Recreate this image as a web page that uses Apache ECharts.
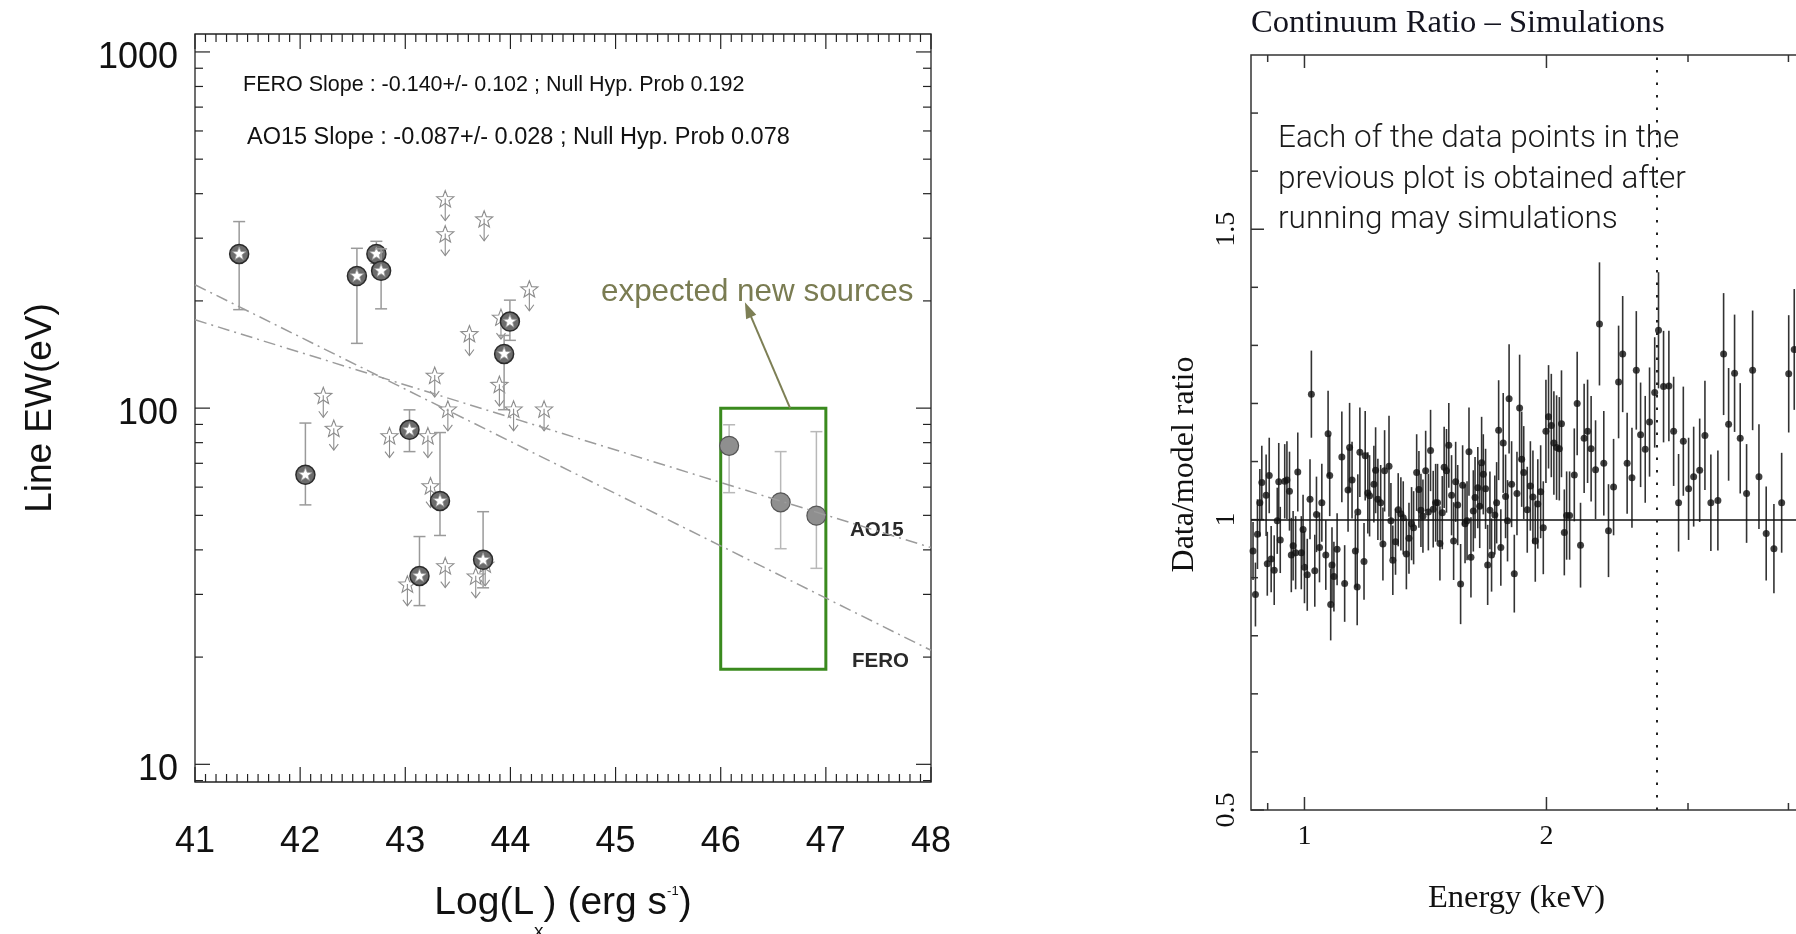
<!DOCTYPE html>
<html>
<head>
<meta charset="utf-8">
<title>Line EW vs Lx / Continuum Ratio</title>
<script src="https://cdn.jsdelivr.net/npm/echarts@6/dist/echarts.min.js"></script>
<style>
  html, body { margin: 0; padding: 0; background: #fff; }
  #chart { width: 1796px; height: 934px; }
</style>
</head>
<body>
<div id="chart"></div>
<script>
// ---------- left panel: line EW against log Lx ----------
// detections (dark circle with star) : log Lx, EW (eV), error bar ends
const detLogL = [41.42, 42.05, 42.54, 42.725, 42.77, 43.04, 43.135, 43.33, 43.74, 43.94, 43.995]
const detEW = [271, 65, 235, 271, 243, 86.9, 33.8, 54.9, 37.5, 142, 175]
const detLow = [189, 53.5, 152, 255, 190, 75.5, 27.9, 43.9, 31.3, 99, 155]
const detHigh = [334, 90.8, 281, 294, 280, 98.9, 43.6, 85.4, 51.2, 160, 201]

// upper limits (open star with arrow)
const ulLogL = [42.22, 42.32, 42.85, 43.02, 43.215, 43.24, 43.28, 43.38, 43.38, 43.38, 43.405, 43.61, 43.67, 43.75, 43.76, 43.895, 43.91, 44.03, 44.18, 44.32]
const ulEW = [108, 87.3, 83.2, 31.9, 83.2, 60.2, 123, 385, 307, 35.9, 98.9, 161, 33.6, 338, 36.3, 116, 179, 98.9, 215, 98.9]

// expected new sources (grey circles)
const newLogL = [46.08, 46.57, 46.91]
const newEW = [78.4, 54.4, 49.9]
const newLow = [57.9, 40.3, 35.5]
const newHigh = [89.8, 75.5, 85.9]

// fitted slopes, end points
const fitLogL = [41, 48]
const feroEW = [222, 20.9]
const ao15EW = [177, 40.6]

// box around the new sources and the arrow to its caption
const boxCorners = [[46, 100], [47, 18.5]]
const arrowEnds = [[46.66, 100], [46.26, 189]]

// tick values
const leftXMajor = [41, 42, 43, 44, 45, 46, 47, 48]
const leftYMajor = [10, 100, 1000]
const leftYMinorMult = [2, 3, 4, 5, 6, 7, 8, 9]

// ---------- right panel: data/model ratio ----------
const ratioEnergy = [
  0.863, 0.869, 0.874, 0.880, 0.885, 0.896, 0.899, 0.904, 0.909, 0.917, 0.925, 0.929, 0.933, 0.945, 0.951, 0.958,
  0.963, 0.968, 0.975, 0.981, 0.991, 0.996, 1.000, 1.008, 1.016, 1.020, 1.030, 1.035, 1.044, 1.051, 1.063, 1.070,
  1.075, 1.078, 1.082, 1.088, 1.098, 1.113, 1.122, 1.133, 1.138, 1.146, 1.157, 1.163, 1.165, 1.172, 1.186, 1.190,
  1.199, 1.205, 1.220, 1.226, 1.234, 1.244, 1.252, 1.258,
  1.274, 1.281, 1.288, 1.298, 1.308, 1.318, 1.327, 1.339, 1.349, 1.359, 1.367, 1.379, 1.388, 1.396, 1.404, 1.415,
  1.426, 1.435, 1.446, 1.456, 1.464, 1.474, 1.484, 1.492, 1.502, 1.512, 1.524, 1.533, 1.542, 1.551, 1.564, 1.573,
  1.584, 1.593, 1.602, 1.611, 1.622, 1.630, 1.643, 1.652, 1.661, 1.669, 1.680, 1.690, 1.701, 1.709, 1.725, 1.734,
  1.744, 1.755, 1.767, 1.779, 1.789, 1.797, 1.810, 1.824, 1.838, 1.852, 1.863, 1.874,
  1.893, 1.910, 1.924, 1.937, 1.951, 1.967, 1.982, 1.997, 2.012, 2.028, 2.043, 2.059, 2.075, 2.088, 2.105, 2.119,
  2.137, 2.166, 2.184, 2.205, 2.228, 2.250, 2.273, 2.302, 2.328, 2.357, 2.389, 2.424, 2.459, 2.488, 2.520, 2.555,
  2.587, 2.619, 2.654, 2.687, 2.727, 2.757,
  2.797, 2.840, 2.879, 2.920, 2.960, 3.005, 3.049, 3.102, 3.149, 3.203, 3.268, 3.322, 3.370, 3.428, 3.484, 3.548,
  3.610, 3.676, 3.753, 3.837, 3.923, 4.003, 4.067
]
const ratioValue = [
  0.946, 0.871, 0.975, 1.029, 1.064, 1.042, 0.924, 1.076, 0.932, 0.913, 0.998, 1.065, 0.965, 1.066, 1.068, 1.049,
  0.939, 0.955, 0.943, 1.082, 0.943, 0.983, 0.918, 0.905, 1.035, 1.216, 0.912, 1.009, 0.952, 1.029, 0.939, 1.148,
  1.076, 0.854, 0.922, 0.902, 0.949, 1.108, 0.890, 1.051, 1.124, 1.068, 0.946, 0.884, 1.013, 1.116, 0.928, 1.110,
  1.046, 1.041, 1.061, 1.085, 1.035, 1.029, 0.958, 1.084,
  1.092, 0.998, 0.930, 0.962, 1.017, 1.010, 1.003, 0.941, 0.968, 0.993, 0.986, 1.081, 1.052, 1.016, 1.006, 1.084,
  1.013, 1.119, 1.018, 1.029, 1.029, 0.959, 1.012, 1.090, 1.084, 1.128, 1.042, 0.963, 1.065, 1.025, 0.889, 1.059,
  0.993, 0.998, 1.117, 0.935, 1.015, 1.038, 1.055, 1.023, 1.098, 1.078, 1.053, 0.922, 1.016, 0.939, 1.008, 1.029,
  1.154, 0.952, 1.132, 1.040, 0.998, 1.208, 1.061, 0.907, 1.045, 1.192, 1.104, 1.081,
  1.017, 1.058, 1.039, 0.963, 1.027, 1.048, 0.986, 1.152, 1.177, 1.162, 1.132, 1.124, 1.122, 1.165, 0.978, 1.007,
  1.007, 1.077, 1.200, 0.956, 1.140, 1.152, 1.122, 1.086, 1.337, 1.097, 0.981, 1.056, 1.237, 1.285, 1.097, 1.072,
  1.257, 1.146, 1.121, 1.168, 1.219, 1.326,
  1.229, 1.230, 1.152, 1.029, 1.135, 1.053, 1.074, 1.085, 1.145, 1.029, 1.033, 1.285, 1.164, 1.252, 1.140, 1.045,
  1.257, 1.074, 0.976, 0.950, 1.029, 1.251, 1.293
]
const ratioError = [
  0.050, 0.055, 0.060, 0.058, 0.063, 0.070, 0.055, 0.065, 0.057, 0.060, 0.057, 0.067, 0.057, 0.064, 0.067, 0.068,
  0.064, 0.060, 0.063, 0.068, 0.063, 0.060, 0.062, 0.062, 0.069, 0.075, 0.062, 0.065, 0.060, 0.067, 0.060, 0.074,
  0.070, 0.062, 0.065, 0.060, 0.062, 0.078, 0.066, 0.072, 0.077, 0.066, 0.063, 0.066, 0.065, 0.077, 0.066, 0.077,
  0.070, 0.070, 0.066, 0.074, 0.070, 0.065, 0.063, 0.070,
  0.087, 0.065, 0.060, 0.057, 0.063, 0.063, 0.063, 0.061, 0.061, 0.063, 0.063, 0.066, 0.066, 0.063, 0.063, 0.069,
  0.066, 0.070, 0.066, 0.067, 0.067, 0.064, 0.063, 0.070, 0.072, 0.073, 0.069, 0.067, 0.069, 0.069, 0.069, 0.069,
  0.068, 0.068, 0.076, 0.069, 0.070, 0.070, 0.070, 0.072, 0.079, 0.069, 0.069, 0.069, 0.067, 0.063, 0.068, 0.070,
  0.086, 0.066, 0.086, 0.072, 0.070, 0.094, 0.074, 0.067, 0.072, 0.092, 0.082, 0.080,
  0.074, 0.077, 0.080, 0.070, 0.077, 0.080, 0.080, 0.089, 0.089, 0.089, 0.089, 0.090, 0.089, 0.092, 0.074, 0.076,
  0.076, 0.080, 0.089, 0.073, 0.094, 0.089, 0.091, 0.085, 0.106, 0.090, 0.080, 0.083, 0.097, 0.100, 0.087, 0.086,
  0.102, 0.090, 0.092, 0.094, 0.095, 0.100,
  0.096, 0.095, 0.094, 0.084, 0.094, 0.088, 0.086, 0.089, 0.094, 0.083, 0.086, 0.105, 0.097, 0.101, 0.095, 0.085,
  0.103, 0.090, 0.081, 0.077, 0.086, 0.101, 0.104
]
const markerEnergy = 2.74
const rightXMajor = [1, 2, 5]
const rightXMinor = [0.9, 3, 4, 6]
const rightYMajor = [0.5, 1, 1.5]
const rightYMinor = [0.6, 0.7, 0.8, 0.9, 1.1, 1.2, 1.3, 1.4, 1.6, 1.7]

const SANS = '"Liberation Sans", Arial, Helvetica, sans-serif'
const SERIF = '"Liberation Serif", "Times New Roman", serif'

// tick items: [x, y, kind] kind 0 x-major, 1 x-minor, 2 y-major, 3 y-minor
function tickItems(xMaj, xMin, yMaj, yMin, xRef, yRef) {
  const out = []
  xMaj.forEach(v => out.push([v, yRef, 0]))
  xMin.forEach(v => out.push([v, yRef, 1]))
  yMaj.forEach(v => out.push([xRef, v, 2]))
  yMin.forEach(v => out.push([xRef, v, 3]))
  return out
}

const leftXMinor = []
for (let i = 410; i < 480; i++) {
  if (i % 10 !== 0) leftXMinor.push(i / 10)
}
const leftYMinor = [9]
leftYMajor.slice(0, 2).forEach(d => leftYMinorMult.forEach(m => leftYMinor.push(d * m)))

function tickRender(majLen, minLen, color, width, xLabels) {
  return function (params, api) {
    const cs = params.coordSys
    const kind = api.value(2)
    const p = api.coord([api.value(0), api.value(1)])
    const len = (kind === 0 || kind === 2) ? majLen : minLen
    const bottom = cs.y + cs.height
    const right = cs.x + cs.width
    const st = () => ({ stroke: color, lineWidth: width })
    const children = []
    if (kind < 2) {
      const x = p[0]
      children.push({ type: 'line', shape: { x1: x, y1: bottom, x2: x, y2: bottom - len }, style: st() })
      children.push({ type: 'line', shape: { x1: x, y1: cs.y, x2: x, y2: cs.y + len }, style: st() })
      if (xLabels && kind === 0) {
        children.push({
          type: 'text',
          style: {
            text: String(api.value(0)), x: x, y: bottom + 27,
            align: 'center', verticalAlign: 'middle', textAlign: 'center', textVerticalAlign: 'middle',
            fontSize: 28, fontFamily: SERIF, fill: '#111'
          }
        })
      }
    } else {
      const y = p[1]
      children.push({ type: 'line', shape: { x1: cs.x, y1: y, x2: cs.x + len, y2: y }, style: st() })
      children.push({ type: 'line', shape: { x1: right, y1: y, x2: right - len, y2: y }, style: st() })
    }
    return { type: 'group', children: children }
  }
}

function starPoints(cx, cy, ro, ri) {
  const pts = []
  for (let k = 0; k < 10; k++) {
    const a = -Math.PI / 2 + k * Math.PI / 5
    const r = k % 2 ? ri : ro
    pts.push([cx + r * Math.cos(a), cy + r * Math.sin(a)])
  }
  return pts
}

function errBar(x, yTop, yBot, cap, color) {
  const st = () => ({ stroke: color, lineWidth: 1.5 })
  return [
    { type: 'line', shape: { x1: x, y1: yTop, x2: x, y2: yBot }, style: st() },
    { type: 'line', shape: { x1: x - cap, y1: yTop, x2: x + cap, y2: yTop }, style: st() },
    { type: 'line', shape: { x1: x - cap, y1: yBot, x2: x + cap, y2: yBot }, style: st() }
  ]
}

function renderDetection(params, api) {
  const p = api.coord([api.value(0), api.value(1)])
  const lo = api.coord([api.value(0), api.value(2)])
  const hi = api.coord([api.value(0), api.value(3)])
  const children = errBar(p[0], hi[1], lo[1], 6, '#9a9a9a')
  children.push({ type: 'circle', shape: { cx: p[0], cy: p[1], r: 9.5 }, style: { fill: '#6c6c6c', stroke: '#2b2b2b', lineWidth: 1.5 } })
  children.push({ type: 'polygon', shape: { points: starPoints(p[0], p[1], 7, 3) }, style: { fill: '#fff', stroke: '#999', lineWidth: 0.8 } })
  return { type: 'group', children: children }
}

function renderUpperLimit(params, api) {
  const p = api.coord([api.value(0), api.value(1)])
  const cx = p[0], cy = p[1]
  const st = () => ({ stroke: '#8c8c8c', lineWidth: 1.1, fill: 'none' })
  return {
    type: 'group',
    children: [
      { type: 'line', shape: { x1: cx, y1: cy - 1, x2: cx, y2: cy + 21 }, style: st() },
      { type: 'polyline', shape: { points: [[cx - 4.5, cy + 15], [cx, cy + 21], [cx + 4.5, cy + 15]] }, style: st() },
      { type: 'polygon', shape: { points: starPoints(cx, cy, 9, 3.8) }, style: st() }
    ]
  }
}

function renderNewSource(params, api) {
  const p = api.coord([api.value(0), api.value(1)])
  const lo = api.coord([api.value(0), api.value(2)])
  const hi = api.coord([api.value(0), api.value(3)])
  const children = errBar(p[0], hi[1], lo[1], 6, '#b8b8b8')
  children.push({ type: 'circle', shape: { cx: p[0], cy: p[1], r: 9.5 }, style: { fill: '#8f8f8f', stroke: '#555', lineWidth: 1.2 } })
  return { type: 'group', children: children }
}

function renderRatioBar(params, api) {
  const top = api.coord([api.value(0), api.value(1) + api.value(2)])
  const bot = api.coord([api.value(0), api.value(1) - api.value(2)])
  return { type: 'line', shape: { x1: top[0], y1: top[1], x2: bot[0], y2: bot[1] }, style: { stroke: '#333', lineWidth: 1.6 } }
}

const chart = echarts.init(document.getElementById('chart'))

const dashDot = [12, 5, 2, 5]

chart.setOption({
  backgroundColor: '#fff',
  animation: false,
  grid: [
    { left: 195, width: 736, top: 34, height: 748, outerBoundsMode: 'none', containLabel: false, show: true, borderColor: '#222', borderWidth: 1.3, backgroundColor: 'transparent' },
    { left: 1251, width: 679, top: 55, height: 755, outerBoundsMode: 'none', containLabel: false, show: true, borderColor: '#333', borderWidth: 1.5, backgroundColor: 'transparent' }
  ],
  xAxis: [
    {
      gridIndex: 0, type: 'value', min: 41, max: 48, interval: 1,
      axisLine: { show: false }, axisTick: { show: false }, splitLine: { show: false },
      axisLabel: { fontSize: 36, margin: 42, color: '#111', fontFamily: SANS },
      name: '{m|Log(L}{sub|x}{m|) (erg s}{sup|-1}{m|)}',
      nameLocation: 'middle', nameGap: 80,
      nameTextStyle: {
        rich: {
          m: { fontSize: 39, lineHeight: 76, fontFamily: SANS, color: '#111' },
          sub: { fontSize: 19, lineHeight: 28, verticalAlign: 'bottom', fontFamily: SANS, color: '#111' },
          sup: { fontSize: 13, lineHeight: 14, verticalAlign: 'top', padding: [20, 0, 0, 0], fontFamily: SANS, color: '#111' }
        }
      }
    },
    {
      gridIndex: 1, type: 'log', logBase: 10, min: 0.858, max: 6,
      axisLine: { show: false }, axisTick: { show: false }, splitLine: { show: false },
      axisLabel: { show: false }
    }
  ],
  yAxis: [
    {
      gridIndex: 0, type: 'log', logBase: 10, min: 8.92, max: 1123,
      axisLine: { show: false }, axisTick: { show: false }, splitLine: { show: false },
      axisLabel: {
        fontSize: 36, margin: 17, color: '#111', fontFamily: SANS,
        verticalAlign: 'top', lineHeight: 12,
        formatter: function (v) {
          const e = Math.log10(v)
          return Math.abs(e - Math.round(e)) < 1e-4 ? String(Math.round(v)) : ''
        }
      },
      name: 'Line EW(eV)', nameLocation: 'middle', nameGap: 136,
      nameTextStyle: { fontSize: 37, fontFamily: SANS, color: '#111' }
    },
    {
      gridIndex: 1, type: 'value', min: 0.5, max: 1.8, interval: 0.5,
      axisLine: { show: false }, axisTick: { show: false }, splitLine: { show: false },
      axisLabel: {
        rotate: 90, fontSize: 28, margin: 10, color: '#111', fontFamily: SERIF,
        formatter: function (v) { return v > 1.6 ? '' : String(v) }
      },
      name: 'Data/model ratio', nameLocation: 'middle', nameGap: 50,
      nameTextStyle: { fontSize: 32, fontFamily: SERIF, color: '#111', padding: [0, 64, 0, 0] }
    }
  ],
  graphic: [
    { type: 'text', left: 243, top: 74, style: { text: 'FERO Slope : -0.140+/- 0.102 ; Null Hyp. Prob 0.192', fontSize: 21.5, fontFamily: SANS, fill: '#111' } },
    { type: 'text', left: 247, top: 126, style: { text: 'AO15 Slope : -0.087+/- 0.028 ; Null Hyp. Prob 0.078', fontSize: 23.5, fontFamily: SANS, fill: '#111' } },
    { type: 'text', left: 850, top: 520, style: { text: 'AO15', fontSize: 20.5, fontWeight: 'bold', fontFamily: SANS, fill: '#2a2a2a' } },
    { type: 'text', left: 852, top: 651, style: { text: 'FERO', fontSize: 20.5, fontWeight: 'bold', fontFamily: SANS, fill: '#2a2a2a' } },
    { type: 'text', left: 601, top: 277, style: { text: 'expected new sources', fontSize: 31.4, fontFamily: SANS, fill: '#7a7c52' } },
    { type: 'text', left: 1251, top: 7, style: { text: 'Continuum Ratio \u2013 Simulations', fontSize: 32.6, fontFamily: SERIF, fill: '#14141f' } },
    {
      type: 'text', left: 1278, top: 119,
      style: {
        text: 'Each of the data points in the\nprevious plot is obtained after\nrunning may simulations',
        fontSize: 31.5, lineHeight: 40.5, fontFamily: 'Roboto, "Liberation Sans", sans-serif', fontWeight: 300, fill: '#1a1a1a'
      }
    },
    { type: 'text', left: 1428, top: 882, style: { text: 'Energy (keV)', fontSize: 32.5, fontFamily: SERIF, fill: '#111' } }
  ],
  series: [
    {
      type: 'custom', name: 'leftTicks', xAxisIndex: 0, yAxisIndex: 0, silent: true, clip: false,
      data: tickItems(leftXMajor, leftXMinor, leftYMajor, leftYMinor, 41, 100),
      renderItem: tickRender(15, 8, '#222', 1.2, false)
    },
    {
      type: 'line', name: 'FERO', xAxisIndex: 0, yAxisIndex: 0, silent: true, symbol: 'none',
      data: fitLogL.map((x, i) => [x, feroEW[i]]),
      lineStyle: { color: '#9c9c9c', width: 1.5, type: dashDot },
      markArea: {
        silent: true,
        itemStyle: { color: 'rgba(0,0,0,0)', borderColor: '#3a8a1e', borderWidth: 3 },
        data: [[{ coord: boxCorners[0] }, { coord: boxCorners[1] }]]
      },
      markLine: {
        silent: true, symbol: ['none', 'triangle'], symbolSize: [11, 16],
        label: { show: false },
        lineStyle: { color: '#7d7f55', width: 2, type: 'solid' },
        data: [[{ coord: arrowEnds[0] }, { coord: arrowEnds[1] }]]
      }
    },
    {
      type: 'line', name: 'AO15', xAxisIndex: 0, yAxisIndex: 0, silent: true, symbol: 'none',
      data: fitLogL.map((x, i) => [x, ao15EW[i]]),
      lineStyle: { color: '#9c9c9c', width: 1.5, type: dashDot }
    },
    {
      type: 'custom', name: 'upper limits', xAxisIndex: 0, yAxisIndex: 0, silent: true,
      data: ulLogL.map((x, i) => [x, ulEW[i]]),
      renderItem: renderUpperLimit
    },
    {
      type: 'custom', name: 'detections', xAxisIndex: 0, yAxisIndex: 0, silent: true,
      data: detLogL.map((x, i) => [x, detEW[i], detLow[i], detHigh[i]]),
      renderItem: renderDetection
    },
    {
      type: 'custom', name: 'new sources', xAxisIndex: 0, yAxisIndex: 0, silent: true,
      data: newLogL.map((x, i) => [x, newEW[i], newLow[i], newHigh[i]]),
      renderItem: renderNewSource
    },
    {
      type: 'custom', name: 'rightTicks', xAxisIndex: 1, yAxisIndex: 1, silent: true, clip: false,
      data: tickItems(rightXMajor, rightXMinor, rightYMajor, rightYMinor, 1, 1),
      renderItem: tickRender(13, 7, '#333', 1.5, true)
    },
    {
      type: 'custom', name: 'ratio errors', xAxisIndex: 1, yAxisIndex: 1, silent: true,
      data: ratioEnergy.map((e, i) => [e, ratioValue[i], ratioError[i]]),
      renderItem: renderRatioBar
    },
    {
      type: 'scatter', name: 'ratio', xAxisIndex: 1, yAxisIndex: 1, silent: true,
      symbol: 'circle', symbolSize: 7,
      itemStyle: { color: '#111' },
      data: ratioEnergy.map((e, i) => [e, ratioValue[i]]),
      markLine: {
        silent: true, symbol: 'none', label: { show: false },
        data: [
          { yAxis: 1, lineStyle: { color: '#111', width: 1.6, type: 'solid' } },
          { xAxis: markerEnergy, lineStyle: { color: '#222', width: 2, type: [2.5, 10] } }
        ]
      }
    }
  ]
})
</script>
</body>
</html>
